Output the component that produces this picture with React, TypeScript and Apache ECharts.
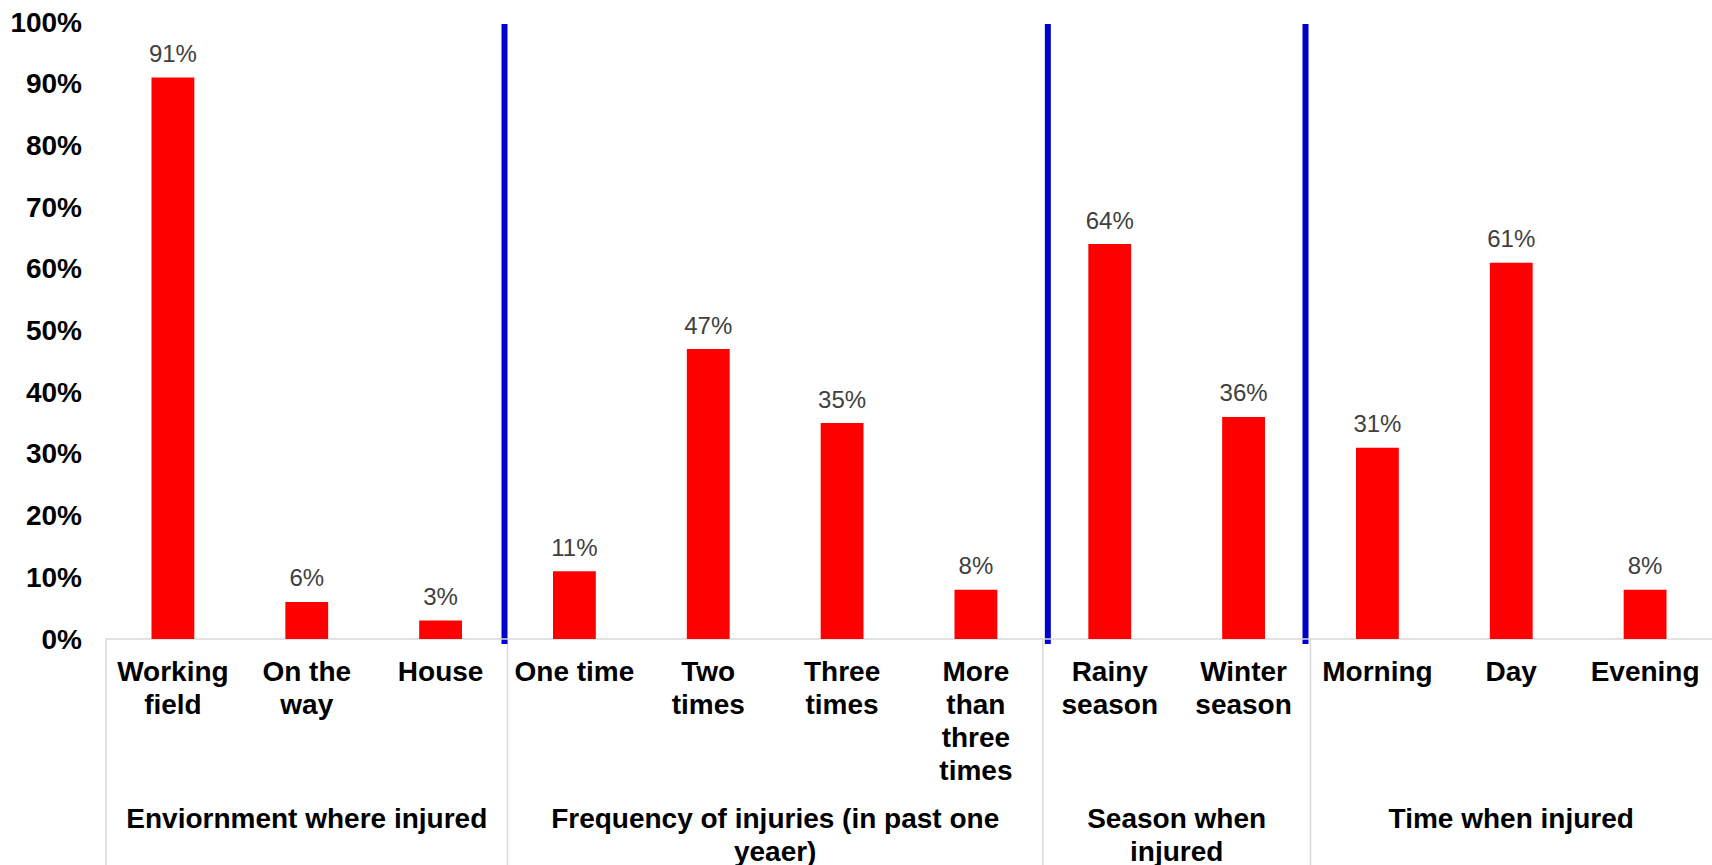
import React, { useEffect, useRef } from "react";
import * as echarts from "echarts";

// Category labels (bottom level of the axis)
const categories = [
  "Working\nfield",
  "On the\nway",
  "House",
  "One time",
  "Two\ntimes",
  "Three\ntimes",
  "More\nthan\nthree\ntimes",
  "Rainy\nseason",
  "Winter\nseason",
  "Morning",
  "Day",
  "Evening",
];

// Percentages per category
const values = [91, 6, 3, 11, 47, 35, 8, 64, 36, 31, 61, 8];

// Top-level groups and how many categories each one spans
const groups = [
  "Enviornment where injured",
  "Frequency of injuries (in past one\nyeaer)",
  "Season when\ninjured",
  "Time when injured",
];
const groupSizes = [3, 4, 2, 3];

// Value axis ticks (percent)
const yMin = 0;
const yMax = 100;
const yStep = 10;

const FONT = '"Liberation Sans", Arial, sans-serif';
const W = 1712;
const H = 865;

export default function App() {
  const ref = useRef<HTMLDivElement>(null);

  useEffect(() => {
    if (!ref.current) return;
    const chart = echarts.init(ref.current, undefined, { renderer: "svg" });

    chart.setOption({
      animation: false,
      grid: { left: 106, right: 0, top: 22, bottom: 226, containLabel: false },
      xAxis: {
        type: "category",
        data: categories,
        axisLine: { show: true, lineStyle: { color: "#d9d9d9", width: 1.5 } },
        axisTick: { show: false },
        axisLabel: {
          interval: 0,
          hideOverlap: false,
          margin: 16,
          color: "#000",
          fontFamily: FONT,
          fontWeight: "bold",
          fontSize: 28,
          lineHeight: 33,
          verticalAlign: "top",
        },
      },
      yAxis: {
        type: "value",
        min: yMin,
        max: yMax,
        interval: yStep,
        splitLine: { show: false },
        axisLine: { show: false },
        axisTick: { show: false },
        axisLabel: {
          formatter: "{value}%",
          margin: 24,
          color: "#000",
          fontFamily: FONT,
          fontWeight: "bold",
          fontSize: 28,
        },
      },
      series: [
        {
          type: "bar",
          data: values,
          barWidth: "32%",
          itemStyle: { color: "#ff0000" },
          label: {
            show: true,
            position: "top",
            distance: 12,
            formatter: "{c}%",
            color: "#404040",
            fontFamily: FONT,
            fontSize: 24,
          },
        },
      ],
    });

    // Group separators, group titles and the blue dividers, positioned from the axis scale
    const c0 = chart.convertToPixel({ xAxisIndex: 0 }, 0) as number;
    const c1 = chart.convertToPixel({ xAxisIndex: 0 }, 1) as number;
    const band = c1 - c0;
    const edge = (i: number) => c0 - band / 2 + i * band;
    const yZero = chart.convertToPixel({ yAxisIndex: 0 }, 0) as number;
    const yTop = chart.convertToPixel({ yAxisIndex: 0 }, yMax) as number;

    const elements: any[] = [];
    let start = 0;
    const boundaries: number[] = [0];
    groups.forEach((g, gi) => {
      const end = start + groupSizes[gi];
      boundaries.push(end);
      elements.push({
        type: "text",
        x: (edge(start) + edge(end)) / 2,
        y: yZero + 163,
        style: {
          text: g,
          fill: "#000",
          fontFamily: FONT,
          fontWeight: "bold",
          fontSize: 28,
          lineHeight: 33,
          align: "center",
          verticalAlign: "top",
        },
      });
      start = end;
    });

    boundaries.slice(0, -1).forEach((b) => {
      elements.push({
        type: "line",
        shape: { x1: edge(b), y1: yZero, x2: edge(b), y2: H },
        style: { stroke: "#d9d9d9", lineWidth: 1.5 },
      });
    });

    // Blue dividers sit just beside the inner group boundaries
    const blueShift = [-3, 5, -5];
    boundaries.slice(1, -1).forEach((b, i) => {
      const x = edge(b) + blueShift[i];
      elements.push({
        type: "line",
        shape: { x1: x, y1: yTop + 2, x2: x, y2: yZero + 5 },
        style: { stroke: "#0000cc", lineWidth: 6 },
      });
    });

    chart.setOption({ graphic: elements });

    return () => chart.dispose();
  }, []);

  return (
    <div
      ref={ref}
      style={{ position: "absolute", left: 0, top: 0, width: W, height: H, background: "#fff" }}
    />
  );
}
